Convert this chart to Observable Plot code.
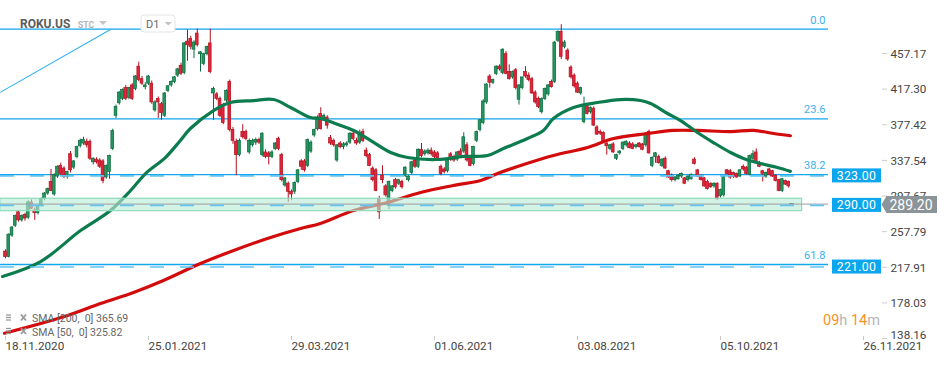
<!DOCTYPE html>
<html><head><meta charset="utf-8">
<script src="https://cdn.jsdelivr.net/npm/d3@7"></script>
<script src="https://cdn.jsdelivr.net/npm/@observablehq/plot@0.6"></script>
<style>
body{margin:0;background:#fff;font-family:Roboto,"Noto Sans",sans-serif;}
#wrap{position:relative;width:950px;height:365px;overflow:hidden;background:#fff;}
</style></head><body>
<div id="wrap"></div>
<script>
// ---------- data ----------
const dateIdx = [0, 44, 88, 132, 176, 220, 264];
const dateLabels = ["18.11.2020","25.01.2021","29.03.2021","01.06.2021","03.08.2021","05.10.2021","26.11.2021"];
const yTicks = [457.17, 417.30, 377.42, 337.54, 297.67, 257.79, 217.91, 178.03];
const yTickLast = [138.16];
const fibLevels = [485.1, 384.5, 322.2, 221.6];
const fibLabels = ["0.0", "23.6", "38.2", "61.8"];
const hLevels = [323, 290, 221];
const currentPrice = [289.2];
const currentIdx = [242];
const zoneLow = [281.3], zoneHigh = [295.2], zoneStart = [-1.6], zoneEnd = [245.1];
const trendIdx = [-1.5, 32.3], trendPrice = [414.5, 484.6];
const sma50Idx = [-0.9,10.8,23.1,32.3,38.5,43.1,49.2,53.8,56.9,64.0,69.2,76.3,82.5,87.7,93.8,96.9,103.1,107.1,112.3,118.5,123.7,132.9,140.9,148.3,153.2,160.6,165.5,168.6,174.8,182.2,189.2,195.4,198.5,203.7,207.7,212.9,217.8,223.1,227.1,232.3,237.5,241.5];
const sma50Val = [208.2,224.9,259.6,282.0,304.4,323.4,341.3,360.4,373.8,393.9,402.9,405.1,406.2,397.3,386.1,385.0,377.2,371.6,360.4,346.9,341.3,339.1,342.5,343.6,351.4,362.6,371.6,385.0,397.3,402.9,406.2,405.1,401.8,390.6,382.7,369.3,358.1,346.9,340.2,334.6,330.1,325.8];
const sma200Idx = [-0.3,8.6,19.1,29.2,39.4,48.6,60.0,70.2,80.6,90.8,96.9,107.1,117.5,127.7,137.8,146.2,151.4,158.5,168.6,179.1,187.1,197.5,205.5,212.9,223.1,230.2,236.3,241.5];
const sma200Val = [144.7,153.3,164.5,177.9,190.3,203.7,222.7,237.3,250.7,261.9,267.5,282.0,291.0,302.2,310.0,315.6,323.4,332.4,343.6,352.5,362.6,368.2,371.6,371.6,370.4,371.6,368.2,365.7];

const opens = [
236,230,254,265,280,271,277,274,291,282,
279,288,295,301,314,300,320,332,329,320,
345,330,342,354,357,359,359,336,339,338,
337,319,325,351,388,402,407,419,408,422,
418,443,429,420,424,424,394,407,401,388,
416,422,426,433,444,436,471,474,462,480,
457,446,457,469,413,412,407,400,405,426,
372,359,344,370,370,347,355,358,361,344,
347,346,342,351,362,344,310,312,303,303,
314,337,337,332,348,366,373,390,385,386,
363,360,338,357,353,355,358,368,360,358,
370,349,344,329,327,295,321,309,287,304,
316,312,314,321,316,324,338,331,350,345,
346,349,347,346,331,328,326,345,342,339,
348,348,355,340,334,360,372,380,403,432,
425,435,443,436,457,437,431,439,406,419,
437,433,429,414,407,392,407,412,426,426,
472,482,465,461,442,433,424,413,381,400,
392,396,375,370,369,357,351,356,340,346,
351,355,357,356,353,357,356,355,370,332,
342,342,332,340,326,321,316,317,320,318,
316,317,339,327,320,318,314,312,309,312,
298,299,327,326,324,323,320,331,330,322,
340,347,335,326,320,328,326,321,316,304,
315,314];
const highs = [
238,256,264,277,282,277,279,293,294,285,
287,296,302,307,328,323,332,335,331,326,
348,338,354,362,364,362,361,341,341,340,
339,333,344,373,400,415,418,422,420,424,
433,448,432,425,433,427,405,409,403,414,
422,427,432,441,447,470,484,477,472,485,
460,458,466,485,420,414,409,402,417,428,
375,362,362,378,372,362,362,363,363,369,
350,348,349,358,364,346,319,314,305,314,
328,339,339,362,360,373,388,397,390,388,
366,362,356,359,358,359,369,371,363,372,
373,352,346,331,329,298,332,311,315,310,
318,317,316,331,321,337,340,351,357,350,
351,352,349,348,333,330,340,347,344,348,
351,369,358,342,354,371,384,406,424,434,
429,444,445,463,460,445,438,441,423,431,
443,436,431,416,409,408,419,423,428,471,
483,490,472,463,444,435,426,420,409,402,
398,398,377,372,370,359,356,358,345,349,
359,360,359,358,356,358,357,369,372,342,
347,344,340,342,327,323,320,322,324,319,
321,323,341,328,322,319,316,313,313,313,
306,321,328,328,325,324,328,333,331,344,
349,351,337,327,325,329,327,322,317,318,
316,315];
const lows = [
228,229,252,263,269,269,270,272,283,271,
277,286,293,299,303,298,318,321,318,317,
324,328,340,352,355,352,338,333,334,329,
312,317,317,349,385,400,405,405,406,405,
416,426,422,417,422,401,392,385,383,386,
414,420,424,431,433,434,449,462,452,465,
437,444,455,435,383,405,386,378,403,370,
356,321,342,362,360,345,353,355,356,342,
340,333,340,349,349,314,308,291,293,300,
312,327,325,330,346,364,371,372,382,373,
355,353,336,351,350,353,356,360,355,356,
358,341,331,314,303,272,312,297,283,302,
306,310,306,319,314,322,329,329,341,343,
344,343,340,337,321,323,324,337,336,337,
342,346,336,331,332,358,370,378,401,419,
423,433,438,434,434,428,429,417,400,417,
430,426,412,401,396,390,405,410,419,424,
470,451,463,449,429,419,413,411,379,389,
390,376,366,366,357,344,349,346,338,344,
349,353,351,350,351,352,349,353,345,330,
335,334,330,328,318,314,314,316,318,311,
314,316,333,319,315,308,305,307,307,293,
296,297,322,317,318,318,319,326,322,321,
338,335,330,314,318,321,319,314,303,302,
310,307];
const closes = [
230,255,263,276,271,276,273,291,284,279,
286,295,301,306,304,322,331,323,320,325,
327,337,353,360,361,355,340,340,336,331,
315,332,343,371,398,414,417,407,419,407,
432,428,424,422,432,403,403,403,391,413,
421,426,431,440,435,469,467,465,470,467,
459,457,465,437,418,407,388,380,416,372,
360,344,360,364,362,360,360,361,358,368,
342,342,347,357,351,316,318,303,300,313,
327,331,327,361,358,372,386,373,388,377,
357,355,355,353,356,357,368,362,357,369,
360,343,332,316,304,280,316,299,314,309,
308,316,308,330,320,336,331,350,343,348,
349,345,342,339,323,325,339,339,338,347,
344,364,338,332,353,370,383,404,423,425,
428,443,440,462,435,429,437,419,422,431,
432,428,413,403,398,407,418,422,420,470,
482,454,470,451,431,421,414,419,400,390,
397,377,367,368,359,354,355,347,344,348,
358,359,352,351,355,353,350,368,346,341,
346,335,339,329,319,316,319,321,323,312,
320,322,334,320,316,309,306,308,312,295,
305,320,323,319,320,319,327,328,323,343,
345,336,331,323,324,322,320,315,304,317,
311,309];

// ---------- build ----------
const candles = opens.map((o, i) => ({i, o, h: highs[i], l: lows[i], c: closes[i]}));
const up = candles.filter(d => d.c >= d.o);
const dn = candles.filter(d => d.c < d.o);
const sma50 = sma50Idx.map((x, k) => ({x, y: sma50Val[k]}));
const sma200 = sma200Idx.map((x, k) => ({x, y: sma200Val[k]}));
const trend = trendIdx.map((x, k) => ({x, y: trendPrice[k]}));
const zone = zoneLow.map((lo, k) => ({lo, hi: zoneHigh[k], a: zoneStart[k], b: zoneEnd[k]}));

const GB = "#25965f", GE = "#0b6a3e", RB = "#e2253a", RE = "#b0101e", BLUE = "#13a6ec";
const W = 0.42;

const plot = Plot.plot({
  width: 950, height: 365,
  marginLeft: 0, marginRight: 122, marginTop: 0, marginBottom: 25,
  x: {domain: [-1.54, 253.23], axis: null},
  y: {domain: [136.56, 517.04], axis: null},
  style: {background: "#fff", fontFamily: "Roboto, sans-serif"},
  marks: [
    Plot.ruleY(fibLevels, {y: d => d, stroke: BLUE, strokeWidth: 1.3}),
    Plot.line(trend, {x: "x", y: "y", stroke: "#2fb0f0", strokeWidth: 1.1}),
    Plot.ruleX(up, {x: "i", y1: "l", y2: "h", stroke: GE, strokeWidth: 1}),
    Plot.ruleX(dn, {x: "i", y1: "l", y2: "h", stroke: RE, strokeWidth: 1}),
    Plot.rect(up, {x1: d => d.i - W, x2: d => d.i + W, y1: "o", y2: "c", fill: GB, stroke: GE, strokeWidth: 0.7}),
    Plot.rect(dn, {x1: d => d.i - W, x2: d => d.i + W, y1: "o", y2: "c", fill: RB, stroke: RE, strokeWidth: 0.7}),
    Plot.line(sma200, {x: "x", y: "y", stroke: "#d30b0b", strokeWidth: 3.2, curve: "catmull-rom"}),
    Plot.line(sma50, {x: "x", y: "y", stroke: "#0c7c4e", strokeWidth: 3.2, curve: "catmull-rom"}),
    Plot.rect(zone, {x1: "a", x2: "b", y1: "lo", y2: "hi", fill: "#b8ecd7", fillOpacity: 0.62, stroke: "#8edbbb", strokeWidth: 1.2}),
    Plot.ruleY(currentPrice, {y: d => d, stroke: "#9c9c9c", strokeWidth: 1}),
    Plot.ruleY(hLevels, {y: d => d, stroke: "#62c4f2", strokeWidth: 1.6, strokeDasharray: "14,16", dy: 2}),
    Plot.rect(currentIdx, {x1: d => d - 0.7, x2: d => d + 0.7, y1: () => currentPrice[0] - 0.6, y2: () => currentPrice[0] + 0.6, fill: "#8d8d8d"}),
    Plot.text(fibLabels, {y: (d, k) => fibLevels[k], text: d => d, frameAnchor: "right", textAnchor: "end", dx: -3, dy: -9, fill: "#38b1ef", fontSize: 11}),
    Plot.text(dateIdx, {x: d => d, text: (d, k) => dateLabels[k], frameAnchor: "bottom", textAnchor: "start", dy: 9, fill: "#444", fontSize: 11.7}),
    Plot.ruleX(dateIdx, {x: d => d, insetTop: 336, stroke: "#c8c8c8"}),
    Plot.text(yTicks, {y: d => d, text: d => d.toFixed(2), frameAnchor: "right", textAnchor: "start", dx: 62, fill: "#444", fontSize: 11.7}),
    Plot.text(yTickLast, {y: d => d, text: d => d.toFixed(2), frameAnchor: "right", textAnchor: "start", dx: 62, dy: -3.5, fill: "#444", fontSize: 11.7})
  ]
});

document.getElementById("wrap").appendChild(plot);

// ---------- overlay labels via the plot's y scale ----------
const ys = plot.scale("y");
const svg = d3.select(plot);
const g = svg.append("g").attr("font-family", "Roboto, sans-serif").attr("text-anchor", "start");

yTicks.concat(yTickLast).forEach(v => {
  const y = ys.apply(v);
  g.append("line").attr("x1", 882).attr("x2", 887).attr("y1", y).attr("y2", y).attr("stroke", "#ccc");
});

hLevels.forEach(v => {
  const cy = ys.apply(v) + 2;
  g.append("rect").attr("x", 832).attr("y", cy - 7).attr("width", 49).attr("height", 14).attr("fill", "#0ba6ee");
  g.append("text").attr("x", 856.5).attr("y", cy).attr("dy", "0.36em").attr("text-anchor", "middle")
    .attr("fill", "#fff").attr("font-size", 12.3).attr("letter-spacing", 0.3).text(v.toFixed(2));
});

const cp = ys.apply(currentPrice[0]) + 1;
g.append("path").attr("d", `M881.5,${cp} L886.5,${cp - 8.5} L937,${cp - 8.5} L937,${cp + 8.5} L886.5,${cp + 8.5} Z`).attr("fill", "#8b9498");
g.append("text").attr("x", 889.5).attr("y", cp).attr("dy", "0.36em").attr("fill", "#fff").attr("font-size", 14).text(currentPrice[0].toFixed(2));

// header
g.append("text").attr("x", 20).attr("y", 27.5).attr("font-size", 12).attr("font-weight", 700).attr("fill", "#5b5b5b").text("ROKU.US");
g.append("text").attr("x", 78).attr("y", 27.5).attr("font-size", 8.5).attr("font-weight", 700).attr("fill", "#b3b3b3").text("STC");
g.append("path").attr("d", "M99,21 L107,21 L103,25 Z").attr("fill", "#c4c4c4");
g.append("rect").attr("x", 141).attr("y", 15).attr("width", 34).attr("height", 17).attr("rx", 3).attr("fill", "#fff").attr("stroke", "#e4e4e4");
g.append("text").attr("x", 146).attr("y", 27.5).attr("font-size", 11).attr("fill", "#666").text("D1");
g.append("path").attr("d", "M164.5,22 L172,22 L168.2,25.5 Z").attr("fill", "#c4c4c4");

// legend
const legendRows = [["SMA [200,  0] 365.69", 318.5], ["SMA [50,  0] 325.82", 332]];
legendRows.forEach(([t, y]) => {
  [-3.5, -1, 1.5].forEach(o => g.append("line").attr("x1", 6).attr("x2", 11).attr("y1", y + o).attr("y2", y + o).attr("stroke", "#999").attr("stroke-width", 1.3));
  g.append("path").attr("d", `M21,${y - 4} L26,${y + 2} M26,${y - 4} L21,${y + 2}`).attr("stroke", "#999").attr("stroke-width", 1.8);
  g.append("text").attr("x", 32).attr("y", y).attr("dy", "0.35em").attr("font-size", 10.5).attr("fill", "#666")
    .attr("xml:space", "preserve").style("white-space", "pre").text(t);
});

// countdown
const cd = g.append("text").attr("x", 823).attr("y", 320).attr("dy", "0.36em").attr("font-size", 14.5);
cd.append("tspan").attr("fill", "#f7941d").text("09");
cd.append("tspan").attr("fill", "#b5b5b5").text("h ");
cd.append("tspan").attr("fill", "#f7941d").text("14");
cd.append("tspan").attr("fill", "#b5b5b5").text("m");
</script></body></html>
